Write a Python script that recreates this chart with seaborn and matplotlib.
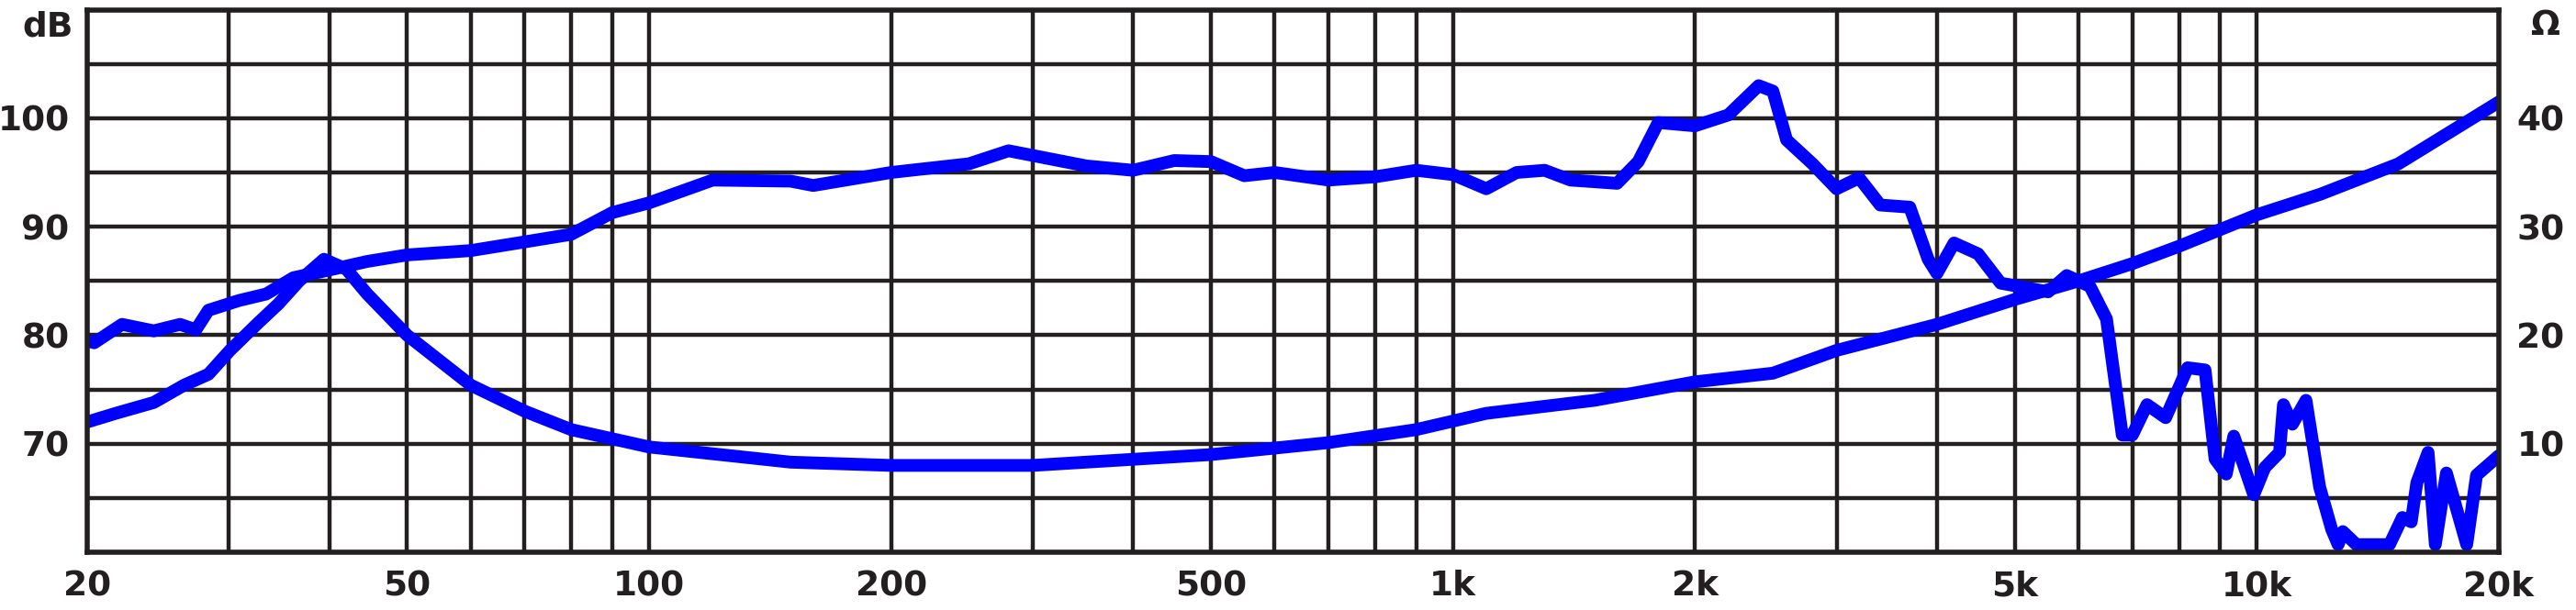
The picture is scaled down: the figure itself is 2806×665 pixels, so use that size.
import matplotlib
matplotlib.use("Agg")
import matplotlib.pyplot as plt
import seaborn as sns
import pandas as pd
from matplotlib.ticker import FixedLocator, NullLocator

spl_freq = [20, 20.4, 22.1, 24.2, 26.1, 27.3, 28.3, 30.9, 33.4, 36.1, 40.5, 44.6, 50, 60, 70, 80, 90, 100,
            120, 150, 160, 200, 250, 280, 350, 400, 450, 500, 550, 600, 700, 800, 900, 1000, 1100, 1200,
            1300, 1400, 1600, 1700, 1800, 2000, 2200, 2400, 2500, 2600, 2800, 3000, 3200, 3400, 3700,
            3900, 4000, 4200, 4500, 4800, 5500, 5800, 6200, 6500, 6800, 7000, 7300, 7700, 8200, 8620,
            8870, 9160, 9360, 9910, 10230, 10670, 10790, 11070, 11510, 11970, 12390, 12620, 12790,
            13300, 14620, 15170, 15560, 15810, 16330, 16670, 17210, 18240, 18760, 20000]
spl_db = [79.5, 79.3, 81.0, 80.4, 81.0, 80.5, 82.3, 83.2, 83.8, 85.3, 86.1, 86.8, 87.4, 87.8, 88.6, 89.3, 91.3, 92.2,
          94.3, 94.2, 93.8, 95.0, 95.8, 97.0, 95.6, 95.2, 96.1, 96.0, 94.7, 95.0, 94.3, 94.6, 95.2, 94.8, 93.5, 95.0,
          95.2, 94.3, 94.0, 96.0, 99.6, 99.3, 100.3, 103.0, 102.5, 98.0, 95.8, 93.5, 94.5, 92.0, 91.8,
          87.0, 85.7, 88.5, 87.5, 84.8, 84.0, 85.5, 84.5, 81.5, 70.8, 70.8, 73.6, 72.4, 77.0, 76.8,
          68.6, 67.2, 70.7, 65.3, 67.8, 69.2, 73.6, 71.8, 74.0, 66.0, 62.1, 60.7, 61.9,
          60.7, 60.7, 63.2, 62.8, 66.4, 69.2, 60.7, 67.3, 60.7, 67.1, 68.9]

imp_freq = [20, 21.7, 24.2, 26.4, 28.3, 30.1, 32.6, 34.6, 36.7, 39.4, 42.0, 44.6, 50, 60, 70, 80, 100, 150,
            200, 300, 500, 700, 900, 1100, 1500, 2000, 2500, 3000, 4000, 5000, 6000, 7000, 8000,
            10000, 12000, 15000, 20000]
imp_ohm = [12.0, 12.8, 13.8, 15.4, 16.4, 18.6, 21.1, 22.9, 25.0, 27.0, 26.1, 23.8, 20.0, 15.4, 13.0, 11.3, 9.7, 8.3,
           8.0, 8.0, 9.0, 10.1, 11.3, 12.8, 14.0, 15.7, 16.5, 18.6, 21.0, 23.3, 25.0, 26.6, 28.2,
           31.1, 33.0, 35.8, 41.5]

x_ticks = [20, 50, 100, 200, 500, 1000, 2000, 5000, 10000, 20000]
x_labels = ["20", "50", "100", "200", "500", "1k", "2k", "5k", "10k", "20k"]
db_ticks = [70, 80, 90, 100]
ohm_ticks = [10, 20, 30, 40]

sns.set_style("white")
plt.rcParams['font.family'] = ['DejaVu Sans']

fig = plt.figure(figsize=(28.06, 6.65), dpi=100)
ax = fig.add_axes([95/2806, 1-602/665, (2722-95)/2806, (602-10.6)/665])
ax.set_xscale("log")
ax.set_xlim(20, 20000)
ax.set_ylim(60, 110)

grid_x = [f * m for m in (10, 100, 1000) for f in range(2, 11)] + [30, 40, 50, 60, 70, 80, 90]
for g in sorted(set(grid_x)):
    if 20 < g < 20000:
        ax.axvline(g, color="#231f20", lw=3.2, zorder=1)
for g in range(65, 110, 5):
    ax.axhline(g, color="#231f20", lw=3.2, zorder=1)

df_spl = pd.DataFrame({"f": spl_freq, "v": spl_db})
df_imp = pd.DataFrame({"f": imp_freq, "v": [o + 60 for o in imp_ohm]})
sns.lineplot(data=df_spl, x="f", y="v", ax=ax, color="#0000ff", lw=10, zorder=3, solid_joinstyle="round", solid_capstyle="round")
sns.lineplot(data=df_imp, x="f", y="v", ax=ax, color="#0000ff", lw=10, zorder=3, solid_joinstyle="round", solid_capstyle="round")

for s in ax.spines.values():
    s.set_color("#231f20")
    s.set_linewidth(4)
    s.set_zorder(4)

ax.xaxis.set_major_locator(FixedLocator(x_ticks))
ax.xaxis.set_minor_locator(NullLocator())
ax.set_xticklabels(x_labels)
ax.set_yticks(db_ticks)
ax.set_yticklabels([str(t) for t in db_ticks])
ax.tick_params(axis="both", length=0, labelsize=27, colors="#231f20", pad=14)
for lab in ax.get_xticklabels() + ax.get_yticklabels():
    lab.set_fontweight("bold")
ax.set_xlabel("")
ax.set_ylabel("")

ax2 = ax.twinx()
ax2.set_ylim(-0, 50)
ax2.set_yticks(ohm_ticks)
ax2.set_yticklabels([str(t) for t in ohm_ticks])
ax2.tick_params(axis="y", length=0, labelsize=27, colors="#231f20", pad=14)
for lab in ax2.get_yticklabels():
    lab.set_fontweight("bold")
for s in ax2.spines.values():
    s.set_visible(False)

fig.text(52/2806, 1-30/665, "dB", fontsize=27, fontweight="bold", color="#231f20", ha="center", va="center")
fig.text(2773/2806, 1-28/665, "Ω", fontsize=27, fontweight="bold", color="#231f20", ha="center", va="center")

fig.savefig("out.png", dpi=100, facecolor="white")
